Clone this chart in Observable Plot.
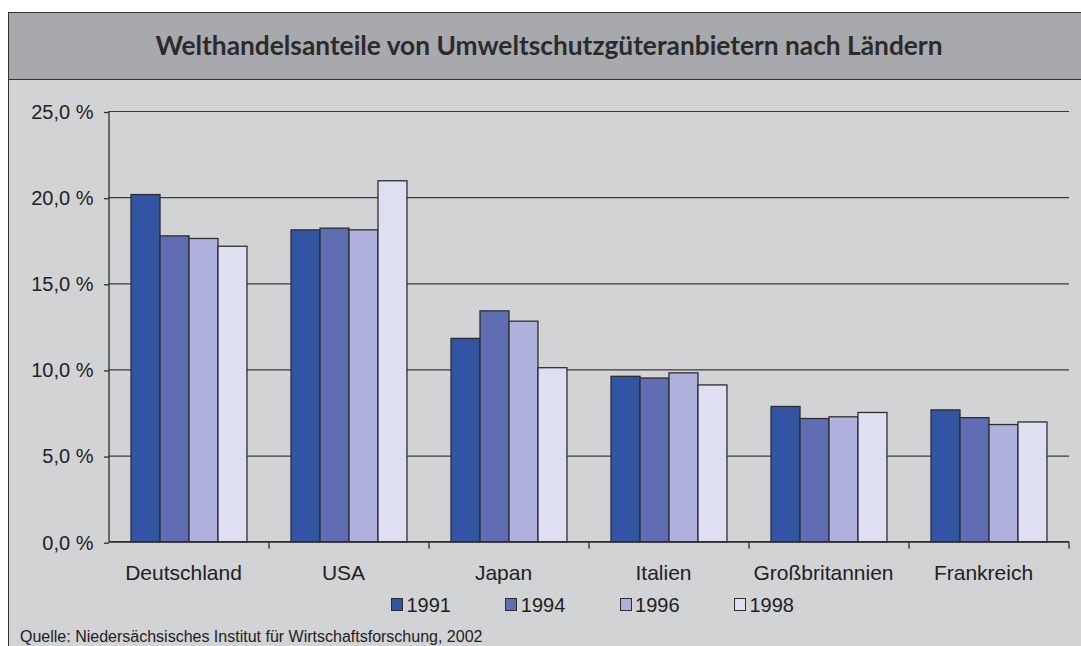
<!DOCTYPE html>
<html>
<head>
<meta charset="utf-8">
<script src="https://cdn.jsdelivr.net/npm/d3@7"></script>
<script src="https://cdn.jsdelivr.net/npm/@observablehq/plot@0.6"></script>
<style>
  html, body { margin: 0; padding: 0; background: #ffffff; width: 1081px; height: 646px; overflow: hidden; }
  #page { position: absolute; left: 0; top: 0; width: 1081px; height: 646px; overflow: hidden; }
  #panel { position: absolute; left: 8px; top: 12px; width: 1100px; height: 700px; background: #d1d3d4;
           border-left: 1.5px solid #333; border-top: 1.5px solid #333; }
  #band { position: absolute; left: 8px; top: 12px; width: 1100px; height: 66px; background: #a7a9ac;
          border-left: 1.5px solid #333; border-top: 1.5px solid #333; border-bottom: 1.5px solid #333; }
  #title { position: absolute; left: 8px; width: 1082px; top: 32px; text-align: center;
           font-family: Lato, "Liberation Sans", sans-serif; font-weight: bold; font-size: 26.3px; line-height: 1; color: #2b2b2b; }
  #chart { position: absolute; left: 0; top: 80px; }
  #legend { position: absolute; left: 391px; top: 595px; display: flex; font-family: "Liberation Sans", Arial, sans-serif;
            font-size: 20px; line-height: 1; color: #222; }
  .item { width: 114.3px; display: flex; align-items: flex-start; }
  .sw { width: 12px; height: 13px; box-sizing: border-box; border: 1.3px solid #2e2e2e; margin-top: 3px; margin-right: 3.5px; }
  #source { position: absolute; left: 20px; top: 628.5px; font-family: "Liberation Sans", Arial, sans-serif;
            font-size: 16px; line-height: 1; color: #222; }
</style>
</head>
<body>
<div id="page">
  <div id="panel"></div>
  <div id="band"></div>
  <div id="title">Welthandelsanteile von Umweltschutzgüteranbietern nach Ländern</div>
  <div id="chart"></div>
  <div id="legend"></div>
  <div id="source">Quelle: Niedersächsisches Institut für Wirtschaftsforschung, 2002</div>
</div>
<script>
const countries = ["Deutschland", "USA", "Japan", "Italien", "Großbritannien", "Frankreich"];
const years = ["1991", "1994", "1996", "1998"];
const v1991 = [20.15, 18.1, 11.8, 9.6, 7.85, 7.65];
const v1994 = [17.75, 18.2, 13.4, 9.5, 7.15, 7.2];
const v1996 = [17.6, 18.1, 12.8, 9.8, 7.25, 6.8];
const v1998 = [17.15, 20.95, 10.1, 9.1, 7.5, 6.95];
const yearColors = ["#3353a3", "#5f6eb2", "#adb1db", "#dedff1"];
const yTicks = [0, 5, 10, 15, 20, 25];

const series = [v1991, v1994, v1996, v1998];
const data = [];
countries.forEach((c, i) => years.forEach((yr, j) => data.push({country: c, year: yr, value: series[j][i]})));

const fmt = d => d.toFixed(1).replace(".", ",") + " %";

const plot = Plot.plot({
  width: 1081,
  height: 500,
  marginLeft: 109,
  marginRight: 12,
  marginTop: 31,
  marginBottom: 38.3,
  style: {background: "transparent", fontFamily: "'Liberation Sans', Arial, sans-serif", fontSize: "20px", color: "#222", overflow: "visible"},
  fx: {domain: countries, padding: 0, round: false, label: null},
  x: {domain: years, paddingInner: 0, paddingOuter: 0.76, round: false, axis: null},
  y: {domain: [0, 25], label: null},
  color: {domain: years, range: yearColors},
  marks: [
    Plot.ruleY(yTicks, {stroke: "#3a3a3a", strokeWidth: 1.2}),
    Plot.barY(data, {fx: "country", x: "year", y: "value", fill: "year", stroke: "#2e2e2e", strokeWidth: 1.3}),
    Plot.axisY(yTicks, {tickSize: 5, tickPadding: 11, tickFormat: fmt, fontSize: 20, dy: 1, label: null, stroke: "#2e2e2e", strokeWidth: 1.3}),
    Plot.axisFx({anchor: "bottom", tickSize: 0, tickPadding: 22.5, fontSize: 21, dx: -6, label: null})
  ]
});
document.getElementById("chart").appendChild(plot);

// axis line and category boundary ticks from Plot's own scales
const fxs = plot.scale("fx");
const ys = plot.scale("y");
const svg = d3.select(plot);
const g = svg.append("g").attr("stroke", "#2e2e2e").attr("stroke-width", 1.3);
const left = fxs.apply(countries[0]);
const y0 = ys.apply(0), yTop = ys.apply(25);
g.append("line").attr("x1", left).attr("x2", left).attr("y1", yTop).attr("y2", y0 + 0.5);
g.append("line").attr("x1", left).attr("x2", fxs.apply(countries[countries.length - 1]) + fxs.bandwidth).attr("y1", y0).attr("y2", y0);
countries.forEach(c => {
  const xb = fxs.apply(c) + fxs.bandwidth;
  g.append("line").attr("x1", xb).attr("x2", xb).attr("y1", y0).attr("y2", y0 + 7);
});

// legend
const lg = d3.select("#legend");
years.forEach((yr, j) => {
  const it = lg.append("div").attr("class", "item");
  it.append("div").attr("class", "sw").style("background", yearColors[j]);
  it.append("span").text(yr);
});
</script>
</body>
</html>
